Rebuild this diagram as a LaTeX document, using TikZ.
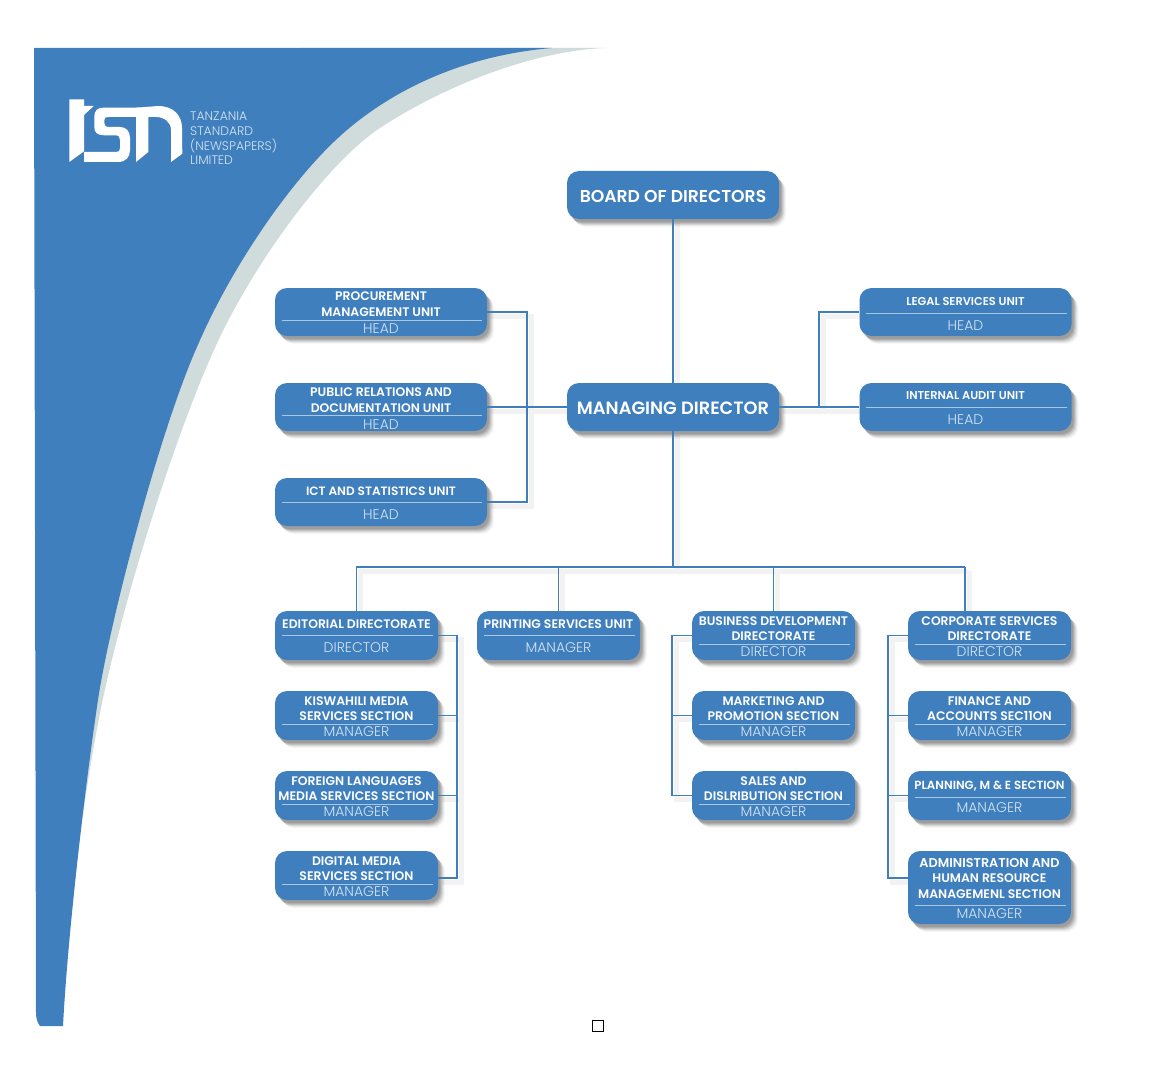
\documentclass[tikz,border=0pt]{standalone}
\usepackage{fontspec}
\usepackage{xcolor}
\usepackage{tikz}
\usetikzlibrary{shadows,backgrounds}
\setmainfont{Poppins}
\newfontfamily\rolefont{Poppins Light}
\newfontfamily\titlefont{Poppins SemiBold}
\definecolor{tsnblue}{HTML}{3F7FBE}
\definecolor{sweepgrey}{HTML}{D0DCDC}
\definecolor{rulelight}{HTML}{A9C8E6}
\definecolor{rolelight}{HTML}{D5E4F3}
\tikzset{
  softshadow/.style={
    general shadow={fill=black,opacity=.03,shadow xshift=7pt,shadow yshift=-8pt},
    general shadow={fill=black,opacity=.05,shadow xshift=6pt,shadow yshift=-7pt},
    general shadow={fill=black,opacity=.07,shadow xshift=5pt,shadow yshift=-6pt},
    general shadow={fill=black,opacity=.10,shadow xshift=4pt,shadow yshift=-5pt},
    general shadow={fill=black,opacity=.10,shadow xshift=3pt,shadow yshift=-4pt},
    general shadow={fill=black,opacity=.10,shadow xshift=2pt,shadow yshift=-3pt}},
  tsnbox/.style={fill=tsnblue,rounded corners=12pt,inner sep=0pt,softshadow},
  bigbox/.style={tsnbox,minimum width=212,minimum height=48},
  widebox/.style={tsnbox,minimum width=212,minimum height=48},
  smallbox/.style={tsnbox,minimum width=163,minimum height=49},
  tallbox/.style={tsnbox,minimum width=163,minimum height=73},
  titletext/.style={text=white,align=center,inner sep=0pt,font=\titlefont\fontsize{12.4}{15.5}\selectfont},
  roletext/.style={text=rolelight,inner sep=0pt,yshift=-.5pt,font=\rolefont\fontsize{14}{16}\selectfont},
  bigtext/.style={text=white,inner sep=0pt,font=\titlefont\fontsize{17.8}{20}\selectfont},
  logotext/.style={text=rolelight,inner sep=0pt,anchor=west,font=\rolefont\fontsize{12.4}{14}\selectfont},
  boxrule/.style={draw=rulelight,line width=1pt},
  wire/.style={draw=tsnblue,line width=1.8pt},
  wireshade/.style={draw=black!5,line width=5pt,transform canvas={xshift=4pt,yshift=-4pt}}
}
% style, name, cx, cy, title y, rule y, role y, title, role
\newcommand{\orgunit}[9]{
  \node[#1] (#2) at (#3,#4) {};
  \node[titletext] (#2title) at (#3,#5) {#8};
  \draw[boxrule] ([xshift=7pt]#2.west |- 0,#6) -- ([xshift=-5pt]#2.east |- 0,#6);
  \node[roletext] (#2role) at (#3,#7) {#9};
}
\newcommand{\wire}[1]{
  \begin{pgfonlayer}{background}\draw[wireshade] #1;\end{pgfonlayer}
  \draw[wire] #1;
}
\begin{document}
\begin{tikzpicture}[x=1pt,y=-1pt]
  \useasboundingbox (0,0) rectangle (1154,1070);

  % sweep
  \fill[sweepgrey] (606,48) .. controls (540,50) and (450,82) .. (380,128)
    .. controls (330,161) and (260,254) .. (220,337)
    .. controls (180,420) and (122,600) .. (99,718)
    .. controls (90,765) and (78,840) .. (73,900)
    -- (50,900) -- (50,300) -- (300,48) -- cycle;
  \fill[tsnblue] (34,48) -- (552,48)
    .. controls (470,55) and (400,85) .. (347,130)
    .. controls (295,174) and (232,265) .. (197,347)
    .. controls (160,430) and (110,620) .. (98,700)
    .. controls (86,780) and (68,930) .. (63,1026)
    -- (40,1026) .. controls (37,1022) and (36,1018) .. (36,1012) -- cycle;

  % logo
  \fill[white] (69.3,99.3) -- (84,99.3) -- (84,106) -- (93.7,106) -- (84,115) -- (84,151.3) -- (69.3,162) -- cycle;
  \fill[white] (140,107.7) -- (103,107.7) .. controls (97,107.7) and (94.3,111) .. (94.3,117)
    -- (94.3,127) .. controls (94.3,133) and (98,135.3) .. (104,135.3)
    -- (115,135.3) .. controls (119,135.3) and (120,137) .. (120,140)
    -- (120,148) .. controls (120,151) and (119,152) .. (116,152)
    -- (84,152) -- (84,162) -- (118,162) .. controls (126,162) and (130,157) .. (130,150)
    -- (130,138) .. controls (130,131) and (126,127) .. (120,127)
    -- (109,127) .. controls (105.5,127) and (104.3,125.5) .. (104.3,123)
    -- (104.3,120) .. controls (104.3,118) and (105.5,117) .. (109,117) -- (140,117) -- cycle;
  \fill[white] (136,107.7) -- (158,106) .. controls (174,106) and (182,116) .. (182,128)
    -- (182.3,153.7) -- (171,162) -- (171,130) .. controls (171,122) and (164,117) .. (156,117)
    -- (148.3,117) -- (148.3,152) -- (136,162) -- cycle;
  \node[logotext] (logoa) at (190,116) {TANZANIA};
  \node[logotext] (logob) at (190,131) {STANDARD};
  \node[logotext] (logoc) at (190,146) {(NEWSPAPERS)};
  \node[logotext] (logod) at (190,160) {LIMITED};

  % top of the chart
  \node[bigbox] (board) at (673,195) {};
  \node[bigtext] (boardtitle) at (673,196) {\fontsize{17.2}{20}\selectfont BOARD OF DIRECTORS};
  \node[bigbox] (md) at (673,407) {};
  \node[bigtext] (mdtitle) at (673,408) {MANAGING DIRECTOR};

  % units
  \orgunit{widebox}{proc}{381}{312}{304}{320}{328}{PROCUREMENT\\MANAGEMENT UNIT}{HEAD}
  \orgunit{widebox}{pubrel}{381}{407}{400}{415}{424}{PUBLIC RELATIONS AND\\DOCUMENTATION UNIT}{HEAD}
  \orgunit{widebox}{ict}{381}{502}{491}{502}{514}{\fontsize{12.1}{15.5}\selectfont ICT AND STATISTICS UNIT}{HEAD}
  \orgunit{widebox}{legal}{965.5}{312}{302}{313}{325}{\fontsize{11.4}{15.5}\selectfont LEGAL SERVICES UNIT}{HEAD}
  \orgunit{widebox}{audit}{965.5}{407}{396}{407}{419}{\fontsize{11.4}{15.5}\selectfont INTERNAL AUDIT UNIT}{HEAD}

  % first column
  \orgunit{smallbox}{edit}{356.5}{635.5}{624}{635}{647}{EDITORIAL DIRECTORATE}{DIRECTOR}
  \orgunit{smallbox}{kis}{356.5}{715.5}{708.5}{724}{731}{KISWAHILI MEDIA\\SERVICES SECTION}{MANAGER}
  \orgunit{smallbox}{foreign}{356.5}{795.5}{788.5}{804}{811}{FOREIGN LANGUAGES\\MEDIA SERVICES SECTION}{MANAGER}
  \orgunit{smallbox}{digital}{356.5}{875.5}{868.5}{884}{891}{DIGITAL MEDIA\\SERVICES SECTION}{MANAGER}
  % second column
  \orgunit{smallbox}{print}{558.5}{635.5}{624}{635}{647}{PRINTING SERVICES UNIT}{MANAGER}
  % third column
  \orgunit{smallbox}{biz}{773.5}{635.5}{628.5}{644}{651}{BUSINESS DEVELOPMENT\\DIRECTORATE}{DIRECTOR}
  \orgunit{smallbox}{market}{773.5}{715.5}{708.5}{724}{731}{MARKETING AND\\PROMOTION SECTION}{MANAGER}
  \orgunit{smallbox}{sales}{773.5}{795.5}{788.5}{804}{811}{SALES AND\\DISLRIBUTION SECTION}{MANAGER}
  % fourth column
  \orgunit{smallbox}{corp}{989.5}{635.5}{628.5}{644}{651}{CORPORATE SERVICES\\DIRECTORATE}{DIRECTOR}
  \orgunit{smallbox}{finance}{989.5}{715.5}{708.5}{724}{731}{FINANCE AND\\ACCOUNTS SEC11ON}{MANAGER}
  \orgunit{smallbox}{plan}{989.5}{795.5}{786}{797}{807}{\fontsize{11.8}{15.5}\selectfont PLANNING, M \& E SECTION}{MANAGER}
  \orgunit{tallbox}{admin}{989.5}{887.5}{878.5}{905}{913}{\fontsize{12.8}{17}\selectfont ADMINISTRATION AND\\HUMAN RESOURCE\\MANAGEMENL SECTION}{MANAGER}

  \coordinate (jleft) at (527,407);
  \coordinate (jright) at (819,407);
  \coordinate (jmid) at (673,567);
  \coordinate (jcorp) at (965,567);
  \coordinate (jedit) at (457,715.5);
  \coordinate (jbiz) at (672,715.5);
  \coordinate (jfin) at (888,715.5);
  \coordinate (jdig) at (457,878);
  \coordinate (jadmin) at (888,878);

  \wire{(board) -- (md)}
  \wire{(md) -- (jmid)}
  \wire{(proc.east) -| (jleft) |- (ict.east)}
  \wire{(pubrel.east) -- (md.west)}
  \wire{(legal.west) -| (jright)}
  \wire{(md.east) -- (audit.west)}
  \wire{(edit.north) |- (jcorp)}
  \wire{(jcorp) -- (jcorp |- corp.north)}
  \wire{(print.north) -- (print.north |- jmid)}
  \wire{(biz.north) -- (biz.north |- jmid)}
  \wire{(edit.east) -| (jdig) -- (jdig -| digital.east)}
  \wire{(kis.east) -- (jedit)}
  \wire{(foreign.east) -- (foreign.east -| jedit)}
  \wire{(biz.west) -| (jbiz) |- (sales.west)}
  \wire{(market.west) -- (jbiz)}
  \wire{(corp.west) -| (jadmin) -- (jadmin -| admin.west)}
  \wire{(finance.west) -- (jfin)}
  \wire{(plan.west) -- (plan.west -| jfin)}

  % page mark
  \node[draw=black,line width=1pt,minimum size=11,inner sep=0pt] (mark) at (598,1026) {};
\end{tikzpicture}
\end{document}
